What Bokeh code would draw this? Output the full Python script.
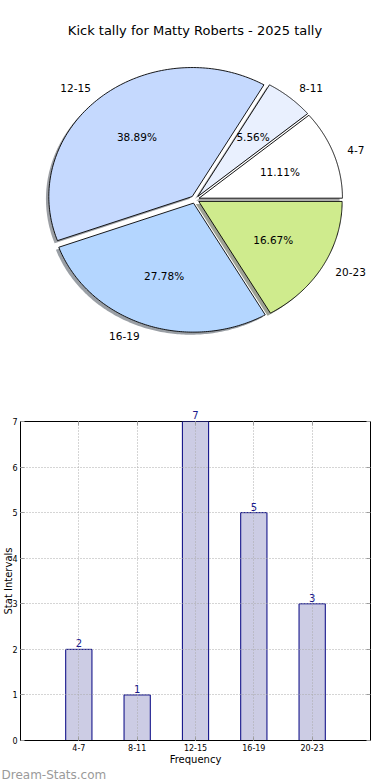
import numpy as np
from bokeh.plotting import figure
from bokeh.models import Range1d, ColumnDataSource, LabelSet, FixedTicker, LinearAxis, Title
from bokeh.layouts import column
from bokeh.embed import file_html
from bokeh.resources import INLINE
from bokeh.core.properties import value

# ---------------- data ----------------
title_text = "Kick tally for Matty Roberts - 2025 tally"
categories = ["4-7", "8-11", "12-15", "16-19", "20-23"]
counts = [2, 1, 7, 5, 3]
slice_colors = ["#ffffff", "#e9f0fe", "#c5d9fe", "#b4d6ff", "#cfeb8d"]
y_ticks = [0, 1, 2, 3, 4, 5, 6, 7]
x_label = "Frequency"
y_label = "Stat Intervals"
watermark = "Dream-Stats.com"

# ---------------- layout constants ----------------
FONT = "DejaVu Sans"
W = 390
H1 = 388
H2 = 780 - H1
L, R = 19, 20                  # shared side borders (column aligns frames)
RX, RY = 143.0, 129.0          # pie radii in px (elliptical as in reference)
CX, CY = 195, 199              # pie centre in px
EXPLODE = 0.03
SHADOW = 0.02

# ---------------- pie ----------------
pie = figure(width=W, height=H1, output_backend="svg", toolbar_location=None,
             x_range=Range1d((L + 2 - CX) / RX, (W - R - CX) / RX),
             y_range=Range1d(-(H1 - CY) / RY, CY / RY),
             x_axis_location=None, y_axis_location=None,
             min_border_left=L, min_border_right=R, min_border_top=0, min_border_bottom=0)
pie.grid.visible = False
pie.outline_line_color = None

total = float(sum(counts))
fracs = np.array(counts) / total
bounds = np.concatenate([[0.0], np.cumsum(fracs)]) * 2 * np.pi
mids = (bounds[:-1] + bounds[1:]) / 2

xs, ys, sxs, sys_, shadow_cols = [], [], [], [], []
for a0, a1, m, col in zip(bounds[:-1], bounds[1:], mids, slice_colors):
    ox, oy = EXPLODE * np.cos(m), EXPLODE * np.sin(m)
    t = np.linspace(a0, a1, 120)
    px = np.concatenate([[ox], ox + np.cos(t)])
    py = np.concatenate([[oy], oy + np.sin(t)])
    xs.append(list(px)); ys.append(list(py))
    sxs.append(list(px - SHADOW)); sys_.append(list(py - SHADOW))
    r, g, b = int(col[1:3], 16), int(col[3:5], 16), int(col[5:7], 16)
    shadow_cols.append("#%02x%02x%02x" % (int(r * 0.3), int(g * 0.3), int(b * 0.3)))

pie.patches(xs=sxs, ys=sys_, fill_color=shadow_cols, fill_alpha=0.5, line_color=None)
pie.patches(xs=xs, ys=ys, fill_color=slice_colors, line_color="black", line_width=0.9)

lx = (EXPLODE + 1.1) * np.cos(mids)
ly = (EXPLODE + 1.1) * np.sin(mids)
left = [i for i in range(len(categories)) if lx[i] > 0]
right = [i for i in range(len(categories)) if lx[i] <= 0]
for idxs, al in ((left, "left"), (right, "right")):
    src = ColumnDataSource(dict(x=[lx[i] for i in idxs], y=[ly[i] for i in idxs],
                                t=[categories[i] for i in idxs]))
    pie.text(x="x", y="y", text="t", source=src, text_align=al, text_baseline="middle",
             text_font=value(FONT), text_font_size="10.5px", text_color="black")

pct = ["%.2f%%" % (100 * f) for f in fracs]
psrc = ColumnDataSource(dict(x=(EXPLODE + 0.6) * np.cos(mids), y=(EXPLODE + 0.6) * np.sin(mids), t=pct))
pie.text(x="x", y="y", text="t", source=psrc, text_align="center", text_baseline="middle",
         text_font=value(FONT), text_font_size="10.5px", text_color="black")

pie.text(x=[0], y=[(CY - 30) / RY], text=[title_text], text_align="center", text_baseline="middle",
         text_font=value(FONT), text_font_size="13px", text_color="black")

# ---------------- bar ----------------
xpos = np.arange(1, len(categories) + 1)
ymax = max(counts)
bar = figure(width=W, height=H2, output_backend="svg", toolbar_location=None,
             x_range=Range1d(0, len(categories) + 1), y_range=Range1d(0, ymax),
             min_border_top=421 - H1, min_border_bottom=40,
             min_border_left=L, min_border_right=R)
bottom_axis = bar.below[0]
left_axis = bar.left[0]

bsrc = ColumnDataSource(dict(x=xpos, top=counts, lab=[str(c) for c in counts]))
bar.vbar(x="x", top="top", width=0.45, source=bsrc, fill_color="#ccccE4",
         line_color="#000080", line_width=1)

# value labels inside the frame
inner = [i for i, c in enumerate(counts) if c < ymax]
isrc = ColumnDataSource(dict(x=[xpos[i] for i in inner], top=[counts[i] for i in inner],
                             lab=[str(counts[i]) for i in inner]))
bar.add_layout(LabelSet(x="x", y="top", text="lab", source=isrc, y_offset=2,
                        text_align="center", text_baseline="bottom",
                        text_font=value(FONT), text_font_size="10px", text_color="#1a1a8c"))

bottom_axis.ticker = FixedTicker(ticks=list(xpos))
bottom_axis.major_label_overrides = {int(i): c for i, c in zip(xpos, categories)}
left_axis.ticker = FixedTicker(ticks=y_ticks)
bar.xgrid.ticker = FixedTicker(ticks=list(xpos))
bar.ygrid.ticker = FixedTicker(ticks=y_ticks)
for g in (bar.xgrid, bar.ygrid):
    g.grid_line_color = "#aaaaaa"
    g.grid_line_dash = "1 2"
    g.grid_line_width = 1
    g.level = "annotation"

for ax in (bottom_axis, left_axis):
    ax.axis_line_color = "black"
    ax.major_tick_in = 4
    ax.major_tick_out = 0
    ax.major_tick_line_color = "#999999"
    ax.minor_tick_line_color = None
    ax.major_label_text_font = FONT
    ax.major_label_text_font_size = "8px"
    ax.major_label_text_color = "black"
    ax.major_label_standoff = 3
    ax.axis_label_text_font = FONT
    ax.axis_label_text_font_size = "10px"
    ax.axis_label_text_font_style = "normal"
    ax.axis_label_text_color = "black"
    ax.axis_label_standoff = 0
left_axis.axis_label_standoff = -5
bottom_axis.axis_label = x_label
left_axis.axis_label = y_label
bar.outline_line_color = "black"
bar.outline_line_alpha = 1
bar.outline_line_width = 1

# value labels of bars that reach the top of the frame, plus top ticks
top_axis = LinearAxis(ticker=FixedTicker(ticks=list(xpos)))
top_axis.major_label_overrides = {int(x): (str(c) if c == ymax else "") for x, c in zip(xpos, counts)}
top_axis.axis_line_color = None
top_axis.major_tick_in = 4
top_axis.major_tick_out = 0
top_axis.major_tick_line_color = "#999999"
top_axis.minor_tick_line_color = None
top_axis.major_label_standoff = 3
top_axis.major_label_text_font = FONT
top_axis.major_label_text_font_size = "10px"
top_axis.major_label_text_color = "#1a1a8c"
bar.add_layout(top_axis, "above")

right_axis = LinearAxis(ticker=FixedTicker(ticks=y_ticks))
right_axis.major_label_overrides = {int(v): "" for v in y_ticks}
right_axis.axis_line_color = None
right_axis.major_tick_in = 4
right_axis.major_tick_out = 0
right_axis.major_tick_line_color = "#999999"
right_axis.minor_tick_line_color = None
right_axis.major_label_text_font_size = "1px"
right_axis.major_label_standoff = 0
bar.add_layout(right_axis, "right")

bar.add_layout(Title(text=watermark, align="left", offset=-L, standoff=-4,
                     text_font=FONT, text_font_size="12px", text_font_style="normal",
                     text_line_height=0.8, text_color="#9a9a9a"), "below")

layout = column(pie, bar)
open("out.html", "w").write(file_html(layout, INLINE))
